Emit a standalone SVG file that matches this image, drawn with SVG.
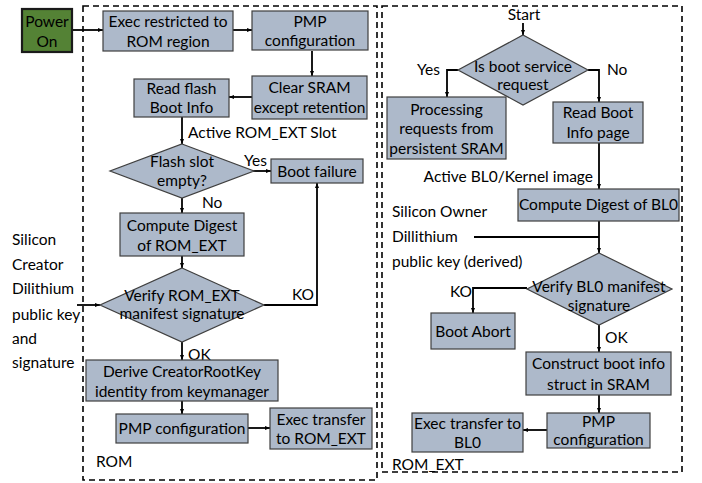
<svg xmlns="http://www.w3.org/2000/svg" width="702" height="483" viewBox="0 0 702 483">
<defs>
<style>
text{font-family:"Lato","Liberation Sans",sans-serif;font-size:15.5px;fill:#000}
.c{text-anchor:middle}
.box{fill:#adb9ca;stroke:#3f3f3f;stroke-width:1.2}
.frame{fill:none;stroke:#000;stroke-width:1.6;stroke-dasharray:6,4}
.ln{fill:none;stroke:#000;stroke-width:1.8}
</style>
<marker id="ah" viewBox="0 0 10 10" refX="10" refY="5" markerWidth="5" markerHeight="5" orient="auto" markerUnits="userSpaceOnUse">
<path d="M0,1 L10,5 L0,9 Z" fill="#000"/>
</marker>
</defs>
<rect width="702" height="483" fill="#fff"/>
<g id="frames">
<rect class="frame" x="83" y="6" width="294" height="474"/>
<rect class="frame" x="382" y="6" width="300" height="466"/>
<text x="96" y="467">ROM</text>
<text x="392" y="470">ROM_EXT</text>
</g>
<g id="connectors">
<path class="ln" d="M72,30 H103" marker-end="url(#ah)"/>
<path class="ln" d="M233,30 H252" marker-end="url(#ah)"/>
<path class="ln" d="M312,51 V76" marker-end="url(#ah)"/>
<path class="ln" d="M252,97 H229" marker-end="url(#ah)"/>
<path class="ln" d="M182,117 V144" marker-end="url(#ah)"/>
<path class="ln" d="M253,171 H271" marker-end="url(#ah)"/>
<path class="ln" d="M182,198 V213" marker-end="url(#ah)"/>
<path class="ln" d="M182,256 V268" marker-end="url(#ah)"/>
<path class="ln" d="M264,305 H317 V183" marker-end="url(#ah)"/>
<path class="ln" d="M77,305 H100" marker-end="url(#ah)"/>
<path class="ln" d="M182,342 V360" marker-end="url(#ah)"/>
<path class="ln" d="M182,401 V414" marker-end="url(#ah)"/>
<path class="ln" d="M248,428 H270" marker-end="url(#ah)"/>
<path class="ln" d="M523,23 V35" marker-end="url(#ah)"/>
<path class="ln" d="M458,70 H447 V97" marker-end="url(#ah)"/>
<path class="ln" d="M588,70 H599 V102" marker-end="url(#ah)"/>
<path class="ln" d="M599,143 V189" marker-end="url(#ah)"/>
<path class="ln" d="M599,221 V253" marker-end="url(#ah)"/>
<path class="ln" d="M474,237 H599"/>
<path class="ln" d="M527,288 H473 V313" marker-end="url(#ah)"/>
<path class="ln" d="M599,325 V352" marker-end="url(#ah)"/>
<path class="ln" d="M599,395 V413" marker-end="url(#ah)"/>
<path class="ln" d="M547,430 H523" marker-end="url(#ah)"/>
<text x="188" y="138">Active ROM_EXT Slot</text>
<text x="244" y="166">Yes</text>
<text x="202" y="208">No</text>
<text x="292" y="300">KO</text>
<text x="188" y="360">OK</text>
<text x="417" y="75">Yes</text>
<text x="607" y="75">No</text>
<text x="593" y="182" text-anchor="end">Active BL0/Kernel image</text>
<text x="450" y="297">KO</text>
<text x="605" y="343">OK</text>
</g>
<g id="power-on">
<rect x="22" y="9" width="50" height="43" fill="#548235" stroke="#1a1a1a" stroke-width="2.2"/>
<text class="c" x="47" y="27">Power</text>
<text class="c" x="47" y="47">On</text>
</g>
<g id="exec-restricted">
<rect class="box" x="103" y="11" width="130" height="40"/>
<text class="c" x="168" y="27">Exec restricted to</text>
<text class="c" x="168" y="47">ROM region</text>
</g>
<g id="pmp1">
<rect class="box" x="252" y="11" width="116" height="39"/>
<text class="c" x="310" y="27">PMP</text>
<text class="c" x="310" y="46">configuration</text>
</g>
<g id="clear-sram">
<rect class="box" x="252" y="76" width="115" height="43"/>
<text class="c" x="309.5" y="93">Clear SRAM</text>
<text class="c" x="309.5" y="113">except retention</text>
</g>
<g id="read-flash">
<rect class="box" x="134" y="79" width="95" height="38"/>
<text class="c" x="181.5" y="94">Read flash</text>
<text class="c" x="181.5" y="113">Boot Info</text>
</g>
<g id="flash-slot">
<polygon class="box" points="182,144 254,171 182,198 110,171"/>
<text class="c" x="182" y="167">Flash slot</text>
<text class="c" x="182" y="186">empty?</text>
</g>
<g id="boot-failure">
<rect class="box" x="271" y="159" width="92" height="24"/>
<text class="c" x="317" y="177">Boot failure</text>
</g>
<g id="compute-digest">
<rect class="box" x="120" y="213" width="124" height="43"/>
<text class="c" x="182" y="231">Compute Digest</text>
<text class="c" x="182" y="251">of ROM_EXT</text>
</g>
<g id="verify-rom-ext">
<polygon class="box" points="182,268 264,305 182,342 100,305"/>
<text class="c" x="182" y="301">Verify ROM_EXT</text>
<text class="c" x="182" y="319">manifest signature</text>
</g>
<g id="creator-key-label">
<text x="12" y="245">Silicon</text>
<text x="12" y="270">Creator</text>
<text x="12" y="294">Dilithium</text>
<text x="12" y="320">public key</text>
<text x="12" y="344">and</text>
<text x="12" y="368">signature</text>
</g>
<g id="derive">
<rect class="box" x="86" y="360" width="192" height="41"/>
<text class="c" x="182" y="377">Derive CreatorRootKey</text>
<text class="c" x="182" y="397">identity from keymanager</text>
</g>
<g id="pmp2">
<rect class="box" x="116" y="414" width="132" height="29"/>
<text class="c" x="182" y="434">PMP configuration</text>
</g>
<g id="exec-transfer-romext">
<rect class="box" x="270" y="408" width="102" height="41"/>
<text class="c" x="321" y="425">Exec transfer</text>
<text class="c" x="321" y="444">to ROM_EXT</text>
</g>
<g id="start">
<text class="c" x="524" y="20">Start</text>
</g>
<g id="boot-service">
<polygon class="box" points="523,35 588,70 523,105 458,70"/>
<text class="c" x="523" y="72">Is boot service</text>
<text class="c" x="523" y="90">request</text>
</g>
<g id="processing">
<rect class="box" x="387" y="97" width="119" height="62"/>
<text class="c" x="446.5" y="115">Processing</text>
<text class="c" x="446.5" y="134">requests from</text>
<text class="c" x="446.5" y="154">persistent SRAM</text>
</g>
<g id="read-boot-info">
<rect class="box" x="553" y="102" width="90" height="41"/>
<text class="c" x="598" y="118">Read Boot</text>
<text class="c" x="598" y="138">Info page</text>
</g>
<g id="compute-bl0">
<rect class="box" x="518" y="189" width="161" height="32"/>
<text class="c" x="598.5" y="210">Compute Digest of BL0</text>
</g>
<g id="owner-key-label">
<text x="392" y="217">Silicon Owner</text>
<text x="392" y="242">Dillithium</text>
<text x="392" y="267">public key (derived)</text>
</g>
<g id="verify-bl0">
<polygon class="box" points="599,253 672,289 599,325 527,289"/>
<text class="c" x="599" y="292">Verify BL0 manifest</text>
<text class="c" x="599" y="311">signature</text>
</g>
<g id="boot-abort">
<rect class="box" x="431" y="313" width="84" height="36"/>
<text class="c" x="473" y="337">Boot Abort</text>
</g>
<g id="construct">
<rect class="box" x="526" y="352" width="145" height="43"/>
<text class="c" x="598.5" y="369">Construct boot info</text>
<text class="c" x="598.5" y="390">struct in SRAM</text>
</g>
<g id="pmp3">
<rect class="box" x="547" y="413" width="103" height="35"/>
<text class="c" x="598.5" y="427">PMP</text>
<text class="c" x="598.5" y="445">configuration</text>
</g>
<g id="exec-transfer-bl0">
<rect class="box" x="412" y="413" width="111" height="39"/>
<text class="c" x="467.5" y="429">Exec transfer to</text>
<text class="c" x="467.5" y="448">BL0</text>
</g>
</svg>
